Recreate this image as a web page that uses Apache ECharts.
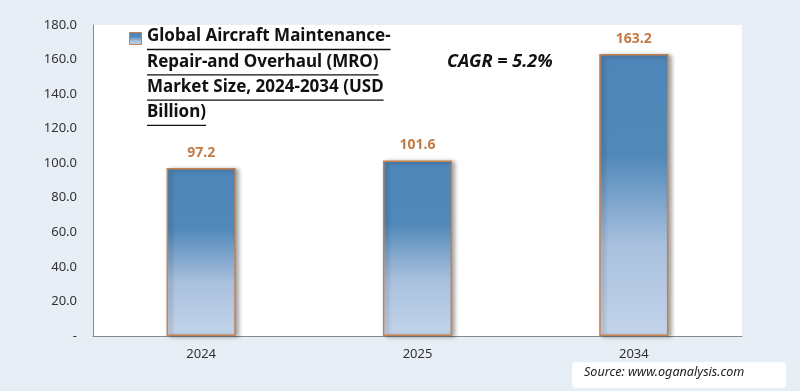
<!DOCTYPE html>
<html><head><meta charset="utf-8">
<script src="https://cdn.jsdelivr.net/npm/echarts@6/dist/echarts.min.js"></script>
<style>html,body{margin:0;padding:0;background:#e8eef6}#c{width:800px;height:391px}</style>
</head><body><div id="c"></div>
<script>
const categories = ['2024', '2025', '2034'];
const values = [97.2, 101.6, 163.2];
const seriesName = 'Global Aircraft Maintenance-Repair-and Overhaul (MRO) Market Size, 2024-2034 (USD Billion)';
const titleLines = ['Global Aircraft Maintenance-', 'Repair-and Overhaul (MRO)', 'Market Size, 2024-2034 (USD', 'Billion)'];
const cagrText = 'CAGR = 5.2%';
const sourceText = 'Source: www.oganalysis.com';

const chart = echarts.init(document.getElementById('c'), null, {renderer: 'canvas'});
const FONT = 'Noto Sans';
const TITLE_FONT = 'bold 17px "' + FONT + '"';
const ctx = document.createElement('canvas').getContext('2d');
ctx.font = TITLE_FONT;
const deco = [];
titleLines.forEach((t, i) => {
  const top = 28 + i * 25.3;
  deco.push({type: 'text', left: 147, top: top, style: {text: t, font: TITLE_FONT, fill: '#111'}});
  deco.push({type: 'line', shape: {x1: 147, y1: top + 21.5, x2: 147 + ctx.measureText(t).width, y2: top + 21.5},
    style: {stroke: '#111', lineWidth: 1.3}});
});
deco.push({type: 'text', left: 447, top: 53, style: {text: cagrText, font: 'italic bold 18px "' + FONT + '"', fill: '#111'}});
deco.push({type: 'rect', left: 572, top: 362, shape: {width: 214, height: 26, r: 4}, style: {fill: '#fff'}});
deco.push({type: 'text', left: 584, top: 366, style: {text: sourceText, font: 'italic 12.6px "' + FONT + '"', fill: '#222'}});

chart.setOption({
  backgroundColor: '#e8eef6',
  animation: false,
  grid: {left: 93, right: 58, top: 25, bottom: 55, show: true, backgroundColor: '#fff', borderWidth: 0},
  legend: {
    show: true, left: 129, top: 32, itemWidth: 12, itemHeight: 12, padding: 0, itemGap: 0,
    formatter: () => ' ', data: [{name: seriesName, icon: 'rect'}],
    itemStyle: {borderColor: '#c87f4a', borderWidth: 1}
  },
  xAxis: {
    type: 'category', data: categories,
    axisLine: {lineStyle: {color: '#888'}}, axisTick: {show: false},
    axisLabel: {color: '#333', fontSize: 13, fontFamily: FONT, margin: 12}
  },
  yAxis: {
    type: 'value', min: 0, max: 180, interval: 20,
    axisLine: {show: true, lineStyle: {color: '#888'}}, axisTick: {show: false},
    splitLine: {show: false},
    axisLabel: {color: '#333', fontSize: 13, fontFamily: FONT, margin: 16,
      formatter: v => v === 0 ? '-' : v.toFixed(1)}
  },
  series: [{
    name: seriesName, type: 'bar', data: values, barWidth: '32%',
    itemStyle: {
      color: new echarts.graphic.LinearGradient(0, 0, 0, 1, [
        {offset: 0, color: '#4f86b9'},
        {offset: 0.36, color: '#5189ba'},
        {offset: 0.68, color: '#a9c0de'},
        {offset: 1, color: '#c3d4ea'}
      ]),
      borderColor: '#c8804c', borderWidth: 1.5,
      shadowColor: 'rgba(0,0,0,0.35)', shadowBlur: 4, shadowOffsetX: 3, shadowOffsetY: 1
    },
    label: {show: true, position: 'top', distance: 8, color: '#c47a45', fontWeight: 'bold', fontSize: 14, fontFamily: FONT,
      formatter: p => p.value.toFixed(1)}
  }],
  graphic: deco
});
</script></body></html>
